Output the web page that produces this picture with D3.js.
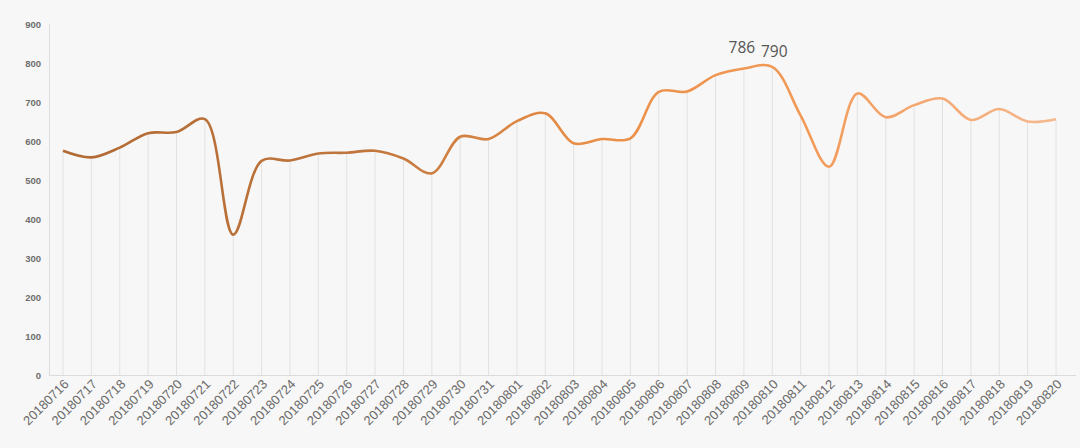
<!DOCTYPE html>
<html>
<head>
<meta charset="utf-8">
<script src="https://cdn.jsdelivr.net/npm/d3@7"></script>
<style>
  html, body { margin: 0; padding: 0; background: #f7f7f7; }
  svg { display: block; font-family: "Open Sans", "Liberation Sans", sans-serif; }
</style>
</head>
<body>
<div id="chart"></div>
<script>
'use strict';

const dates = ['20180716','20180717','20180718','20180719','20180720','20180721','20180722',
  '20180723','20180724','20180725','20180726','20180727','20180728','20180729','20180730',
  '20180731','20180801','20180802','20180803','20180804','20180805','20180806','20180807',
  '20180808','20180809','20180810','20180811','20180812','20180813','20180814','20180815',
  '20180816','20180817','20180818','20180819','20180820'];

const values = [575, 558, 583, 620, 623, 656, 360,
  549, 550, 568, 570, 575, 555, 517, 611,
  605, 651, 671, 594, 605, 607, 726, 727,
  769, 786, 790, 665, 534, 722, 661, 692,
  709, 654, 682, 650, 656];

const yTicks = [0, 100, 200, 300, 400, 500, 600, 700, 800, 900];

// labelled points
const marked = ['20180809', '20180810'];

const data = dates.map((d, i) => ({date: d, value: values[i]}));

const W = 1080, H = 448;
const margin = {top: 24, right: 12, bottom: 73, left: 49};
const width = W - margin.left - margin.right,
      height = H - margin.top - margin.bottom;

const svg = d3.select('#chart').append('svg')
  .attr('width', W)
  .attr('height', H);

svg.append('rect').attr('width', W).attr('height', H).attr('fill', '#f7f7f7');

const g = svg.append('g')
  .attr('transform', 'translate(' + margin.left + ',' + margin.top + ')');

// x: points with padding at both ends
const x = d3.scalePoint()
  .domain(dates)
  .range([14, 1007]);

const y = d3.scaleLinear()
  .domain([0, 900])
  .range([height, 0]);

// gradient along the line
const defs = svg.append('defs');
const grad = defs.append('linearGradient')
  .attr('id', 'lineGrad')
  .attr('gradientUnits', 'userSpaceOnUse')
  .attr('x1', x(dates[0])).attr('y1', 0)
  .attr('x2', x(dates[dates.length - 1])).attr('y2', 0);
grad.append('stop').attr('offset', '0%').attr('stop-color', '#b16a34');
grad.append('stop').attr('offset', '30%').attr('stop-color', '#c0763d');
grad.append('stop').attr('offset', '55%').attr('stop-color', '#ec9048');
grad.append('stop').attr('offset', '75%').attr('stop-color', '#f29a58');
grad.append('stop').attr('offset', '100%').attr('stop-color', '#f5b88e');

// y axis
const yAxis = g.append('g')
  .call(d3.axisLeft(y).tickValues(yTicks).tickSize(0).tickPadding(8));
yAxis.select('.domain').attr('stroke', '#dcdcdc');
yAxis.selectAll('text')
  .attr('fill', '#6e6e6e')
  .style('font-family', '"Liberation Sans", Arial, sans-serif')
  .style('font-size', '9.5px')
  .style('font-weight', 'bold');

// drop lines
g.append('g').selectAll('line')
  .data(data)
  .enter()
  .append('line')
  .attr('x1', d => x(d.date))
  .attr('x2', d => x(d.date))
  .attr('y1', d => y(d.value))
  .attr('y2', height)
  .attr('stroke', '#e2e2e2')
  .attr('stroke-width', 1);

// x axis
const xAxis = g.append('g')
  .attr('transform', 'translate(0,' + height + ')')
  .call(d3.axisBottom(x).tickSize(0).tickPadding(0));
xAxis.select('.domain').attr('stroke', '#dcdcdc').attr('d', 'M0,0.5H' + (width + 8));
xAxis.selectAll('text')
  .attr('fill', '#6a6a6a')
  .style('font-family', '"Liberation Sans", Arial, sans-serif')
  .style('font-size', '13px')
  .attr('text-anchor', 'end')
  .attr('dy', 0)
  .attr('transform', 'translate(6,10) rotate(-45)');

// line
const line = d3.line()
  .x(d => x(d.date))
  .y(d => y(d.value))
  .curve(d3.curveCatmullRom.alpha(0.5));

g.append('path')
  .datum(data)
  .attr('fill', 'none')
  .attr('stroke', 'url(#lineGrad)')
  .attr('stroke-width', 2.6)
  .attr('stroke-linejoin', 'round')
  .attr('d', line);

// value labels
g.append('g').selectAll('text')
  .data(data.filter(d => marked.includes(d.date)))
  .enter()
  .append('text')
  .attr('x', (d, i) => x(d.date) + (i === 0 ? -2 : 2))
  .attr('y', (d, i) => y(d.value) - (i === 0 ? 15 : 10))
  .attr('text-anchor', 'middle')
  .attr('fill', '#555')
  .style('font-size', '15.5px')
  .text(d => d.value);
</script>
</body>
</html>
